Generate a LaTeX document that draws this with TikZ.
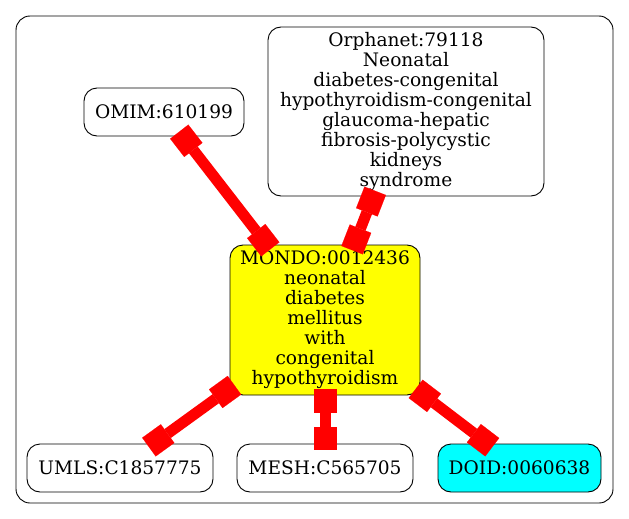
\documentclass[tikz,border=0pt]{standalone}
\usepackage{fontspec}
\setmainfont{DejaVu Serif}
\usetikzlibrary{arrows.meta}
\definecolor{gvyellow}{RGB}{255,255,0}
\definecolor{gvcyan}{RGB}{0,255,255}
\definecolor{gvred}{RGB}{255,0,0}
\tikzset{
  nodebox/.style={draw=black, line width=0.9pt, rounded corners=13pt, align=center,
    font=\fontsize{18.6}{20}\selectfont, inner sep=0pt},
  link/.style={draw=gvred, line width=11pt,
    {Square[length=23pt,width=23pt,line width=0.1pt,gvred]}-{Square[length=23pt,width=23pt,line width=0.1pt,gvred]},
    shorten <=-6pt, shorten >=-6pt}
}
\begin{document}
\begin{tikzpicture}[x=1pt,y=-1pt]
\useasboundingbox (0,0) rectangle (629,519);
\node[draw=black, line width=0.9pt, rounded corners=14pt, minimum width=597pt, minimum height=487pt, inner sep=0pt] (cluster) at (314.5,259.5) {};
\node[nodebox, minimum width=160pt, minimum height=48pt] (omim) at (164,112) {OMIM:610199};
\node[nodebox, minimum width=276pt, minimum height=169pt] (orpha) at (406,111.5) {Orphanet:79118\\Neonatal\\diabetes-congenital\\hypothyroidism-congenital\\glaucoma-hepatic\\fibrosis-polycystic\\kidneys\\syndrome};
\node[nodebox, fill=gvyellow, minimum width=190pt, minimum height=150pt] (mondo) at (325,320) {MONDO:0012436\\neonatal\\diabetes\\mellitus\\with\\congenital\\hypothyroidism};
\node[nodebox, minimum width=186pt, minimum height=48pt] (umls) at (120,468) {UMLS:C1857775};
\node[nodebox, minimum width=176pt, minimum height=48pt] (mesh) at (325,468) {MESH:C565705};
\node[nodebox, fill=gvcyan, minimum width=163pt, minimum height=48pt] (doid) at (519.5,468) {DOID:0060638};
\draw[link] (omim) -- (mondo);
\draw[link] (orpha) -- (mondo);
\draw[link] (mondo) -- (umls);
\draw[link] (mondo) -- (mesh);
\draw[link] (mondo) -- (doid);
\end{tikzpicture}
\end{document}
